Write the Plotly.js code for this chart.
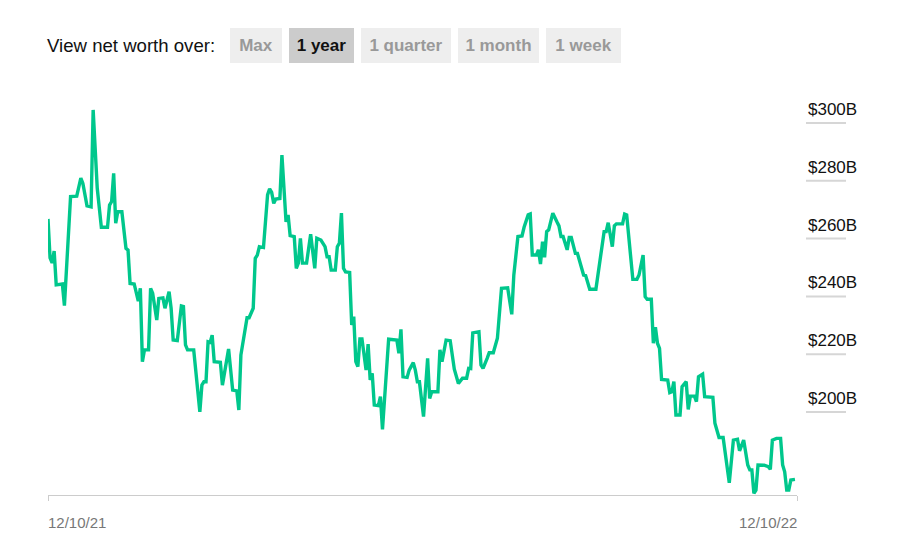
<!DOCTYPE html>
<html>
<head>
<meta charset="utf-8">
<script src="https://cdn.plot.ly/plotly-3.0.1.min.js"></script>
<style>
  html, body { margin: 0; padding: 0; background: #fff; }
  #chart { width: 922px; height: 547px; }
</style>
</head>
<body>
<div id="chart"></div>
<script>
// ---- Data ----
const dates = [
  "2021-12-10","2021-12-11","2021-12-12","2021-12-13","2021-12-14","2021-12-17","2021-12-18","2021-12-21","2021-12-24","2021-12-26",
  "2021-12-27","2021-12-29","2021-12-31","2022-01-01","2022-01-03","2022-01-05","2022-01-08","2022-01-09","2022-01-10","2022-01-11",
  "2022-01-12","2022-01-13","2022-01-15","2022-01-16","2022-01-17","2022-01-18","2022-01-19","2022-01-21","2022-01-23","2022-01-24",
  "2022-01-25","2022-01-26","2022-01-28","2022-01-29","2022-01-30","2022-02-01","2022-02-02","2022-02-04","2022-02-05","2022-02-07",
  "2022-02-08","2022-02-09","2022-02-11","2022-02-13","2022-02-14","2022-02-15","2022-02-16","2022-02-19","2022-02-22","2022-02-23",
  "2022-02-24","2022-02-25","2022-02-26","2022-02-27","2022-02-28","2022-03-01","2022-03-04","2022-03-05","2022-03-08","2022-03-10",
  "2022-03-12","2022-03-13","2022-03-14","2022-03-17","2022-03-18","2022-03-20","2022-03-21","2022-03-22","2022-03-23","2022-03-25",
  "2022-03-27","2022-03-28","2022-03-29","2022-03-30","2022-03-31","2022-04-02","2022-04-03","2022-04-05","2022-04-06","2022-04-07",
  "2022-04-09","2022-04-10","2022-04-11","2022-04-12","2022-04-13","2022-04-15","2022-04-16","2022-04-17","2022-04-19","2022-04-20",
  "2022-04-22","2022-04-24","2022-04-25","2022-04-26","2022-04-27","2022-04-29","2022-04-30","2022-05-01","2022-05-02","2022-05-03",
  "2022-05-04","2022-05-06","2022-05-07","2022-05-08","2022-05-09","2022-05-10","2022-05-11","2022-05-12","2022-05-14","2022-05-15",
  "2022-05-16","2022-05-17","2022-05-18","2022-05-20","2022-05-21","2022-05-22","2022-05-25","2022-05-29","2022-05-30","2022-05-31",
  "2022-06-01","2022-06-03","2022-06-04","2022-06-06","2022-06-07","2022-06-08","2022-06-09","2022-06-11","2022-06-13","2022-06-14",
  "2022-06-15","2022-06-18","2022-06-19","2022-06-20","2022-06-22","2022-06-24","2022-06-26","2022-06-28","2022-06-30","2022-07-02",
  "2022-07-03","2022-07-04","2022-07-05","2022-07-08","2022-07-09","2022-07-10","2022-07-12","2022-07-13","2022-07-15","2022-07-17",
  "2022-07-19","2022-07-22","2022-07-24","2022-07-25","2022-07-27","2022-07-29","2022-07-30","2022-08-01","2022-08-02","2022-08-03",
  "2022-08-05","2022-08-06","2022-08-07","2022-08-08","2022-08-09","2022-08-10","2022-08-11","2022-08-13","2022-08-15","2022-08-16",
  "2022-08-17","2022-08-18","2022-08-20","2022-08-21","2022-08-22","2022-08-24","2022-08-25","2022-08-28","2022-08-29","2022-08-31",
  "2022-09-03","2022-09-05","2022-09-07","2022-09-08","2022-09-09","2022-09-11","2022-09-12","2022-09-13","2022-09-16","2022-09-17",
  "2022-09-18","2022-09-21","2022-09-23","2022-09-24","2022-09-26","2022-09-27","2022-09-28","2022-09-30","2022-10-01","2022-10-02",
  "2022-10-03","2022-10-04","2022-10-05","2022-10-08","2022-10-09","2022-10-10","2022-10-11","2022-10-12","2022-10-14","2022-10-15",
  "2022-10-17","2022-10-18","2022-10-19","2022-10-21","2022-10-22","2022-10-23","2022-10-25","2022-10-26","2022-10-29","2022-10-30",
  "2022-10-31","2022-11-02","2022-11-04","2022-11-07","2022-11-09","2022-11-11","2022-11-12","2022-11-14","2022-11-16","2022-11-17",
  "2022-11-18","2022-11-19","2022-11-20","2022-11-21","2022-11-24","2022-11-26","2022-11-27","2022-11-28","2022-11-30","2022-12-02",
  "2022-12-03","2022-12-04","2022-12-05","2022-12-06","2022-12-07","2022-12-09"
];
const netWorth = [
  266.8,253.3,251.6,255.7,244.0,244.3,236.8,274.5,274.7,280.9,
  279.1,271.3,271.0,304.5,277.4,263.9,263.9,271.6,272.8,282.6,
  265.3,269.3,269.3,263.6,256.6,256.0,244.5,244.3,238.4,242.8,
  217.4,221.5,221.5,242.8,241.1,231.8,239.3,239.5,235.9,241.6,
  235.9,224.9,224.7,236.7,236.5,223.2,221.5,221.5,200.1,209.3,
  210.5,210.5,224.3,224.1,226.6,217.4,217.2,209.3,221.8,207.6,
  207.3,200.7,219.7,232.6,232.6,235.9,253.2,254.3,257.2,256.9,
  275.1,277.2,276.0,272.2,273.7,273.9,288.9,265.8,268.2,261.0,
  260.7,249.7,251.5,260.1,251.5,251.5,257.2,261.5,249.7,260.1,
  259.5,257.2,253.7,253.7,249.1,249.1,257.2,258.4,268.8,249.7,
  248.5,248.3,230.1,233.0,217.4,215.7,225.3,225.3,214.5,223.5,
  211.1,213.4,202.4,202.2,205.3,194.0,225.2,224.9,220.3,228.6,
  212.2,212.0,214.5,217.1,214.5,210.5,210.5,198.4,218.6,204.7,
  207.0,207.0,221.5,217.4,224.9,224.7,214.8,209.9,211.7,211.7,
  215.1,215.0,227.4,227.8,216.3,215.1,218.6,220.5,220.5,225.5,
  242.8,243.0,233.8,247.4,260.7,260.9,263.9,268.2,268.5,254.3,
  254.3,256.1,251.2,258.9,253.5,262.4,263.0,268.8,265.8,264.4,
  260.7,260.7,256.1,260.4,260.4,254.9,254.9,247.4,247.2,242.5,
  242.5,252.6,262.4,262.4,265.5,257.2,264.4,265.1,265.1,268.5,
  268.2,245.9,245.9,247.4,254.3,239.9,239.0,239.0,223.8,229.3,
  223.8,222.0,211.3,211.1,206.7,207.0,210.5,199.0,199.0,208.8,
  210.5,200.9,205.5,205.5,203.6,212.2,213.1,205.3,205.1,205.1,
  196.1,191.2,191.2,175.5,190.3,190.6,186.6,190.3,181.7,180.0,
  180.0,171.9,173.0,181.7,181.6,181.1,180.2,190.3,190.9,190.9,
  181.7,179.3,173.0,173.0,176.5,176.7
];
const yTickVals = [200, 220, 240, 260, 280, 300];
const yTickText = ["$200B", "$220B", "$240B", "$260B", "$280B", "$300B"];
const xEndLabels = ["12/10/21", "12/10/22"];
const xEndDates = ["2021-12-10", "2022-12-10"];
const periodButtons = ["Max", "1 year", "1 quarter", "1 month", "1 week"];
const activeButton = "1 year";

// ---- Layout helpers (pixel -> paper) ----
const W = 922, H = 547, ML = 48, MR = 125, MT = 90, MB = 52;
const PW = W - ML - MR, PH = H - MT - MB;
const pxX = p => (p - ML) / PW;
const pxY = p => (H - MB - p) / PH;

const FONT = '"Liberation Sans", Arial, Helvetica, sans-serif';

const trace = {
  x: dates,
  y: netWorth,
  type: 'scatter',
  mode: 'lines',
  line: { color: '#00c78c', width: 3.4, shape: 'linear' },
  hoverinfo: 'skip'
};

const buttonBoxes = [
  { l: 230, r: 282 }, { l: 289, r: 354 }, { l: 361, r: 451 }, { l: 458, r: 539 }, { l: 546, r: 621 }
];
const btnTop = 28, btnBot = 63;

const annotations = [];
annotations.push({
  text: 'View net worth over:', xref: 'paper', yref: 'paper',
  x: pxX(45), y: pxY((btnTop + btnBot) / 2), xanchor: 'left', yanchor: 'middle',
  showarrow: false, font: { family: FONT, size: 18.6, color: '#111' }
});
periodButtons.forEach((t, i) => {
  const b = buttonBoxes[i];
  const active = t === activeButton;
  annotations.push({
    text: '<b>' + t + '</b>', xref: 'paper', yref: 'paper',
    x: pxX((b.l + b.r) / 2), y: pxY((btnTop + btnBot) / 2), xanchor: 'center', yanchor: 'middle',
    width: b.r - b.l, height: btnBot - btnTop, borderpad: 0, borderwidth: 0,
    bgcolor: active ? '#cccccc' : '#eeeeee', showarrow: false,
    font: { family: FONT, size: 17, color: active ? '#111' : '#999' }
  });
});
xEndLabels.forEach((t, i) => {
  annotations.push({
    text: t, xref: 'x', yref: 'paper', x: xEndDates[i], y: 0,
    xanchor: i === 0 ? 'left' : 'right', yanchor: 'top', yshift: -17, xshift: i === 0 ? -2 : 2,
    showarrow: false, font: { family: FONT, size: 15, color: '#777' }
  });
});

const shapes = yTickVals.map(v => ({
  type: 'line', xref: 'paper', yref: 'y', x0: pxX(806), x1: pxX(846), y0: v, y1: v,
  line: { color: '#d6d6d6', width: 2 }
}));

const layout = {
  width: W, height: H,
  margin: { l: ML, r: MR, t: MT, b: MB, pad: 0 },
  paper_bgcolor: '#ffffff', plot_bgcolor: '#ffffff',
  showlegend: false,
  font: { family: FONT, color: '#111' },
  xaxis: {
    type: 'date', range: ['2021-12-10', '2022-12-10'],
    showgrid: false, zeroline: false,
    showline: true, linecolor: '#cccccc', linewidth: 1,
    ticks: 'outside', ticklen: 5, tickcolor: '#cccccc', tickwidth: 1,
    tickvals: xEndDates, showticklabels: false, fixedrange: true
  },
  yaxis: {
    side: 'right', range: [171.3, 311.4],
    showgrid: false, zeroline: false, showline: false, ticks: '',
    tickvals: yTickVals, ticktext: yTickText,
    ticklabelposition: 'outside top', ticklabelstandoff: 10, ticklabelshift: -2,
    tickfont: { family: FONT, size: 17, color: '#111' }, fixedrange: true
  },
  shapes: shapes,
  annotations: annotations
};

Plotly.newPlot('chart', [trace], layout, { displayModeBar: false, staticPlot: true });
</script>
</body>
</html>
